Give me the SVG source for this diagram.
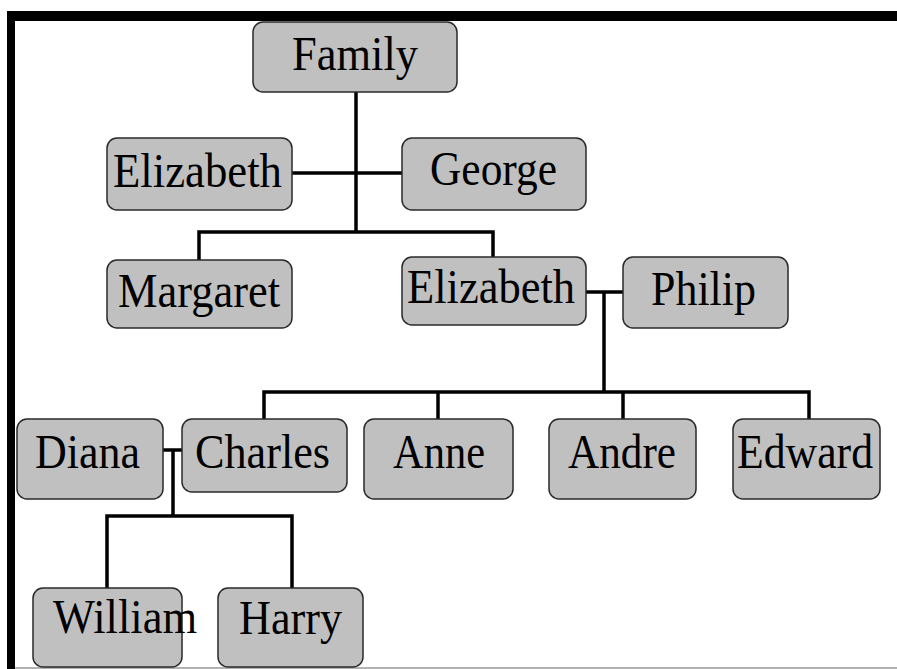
<svg xmlns="http://www.w3.org/2000/svg" width="897" height="669" viewBox="0 0 897 669">
<style>
.box{fill:#c0c0c0;stroke:#2a2a2a;stroke-width:1.5}
.t{font-family:"Liberation Serif","Times New Roman",serif;font-size:49px;fill:#000}
.c{stroke:#000;stroke-width:3.5;fill:none}
</style>
<rect x="0" y="0" width="897" height="669" fill="#fff"/>
<g id="frame">
<rect x="7" y="11" width="890" height="10" fill="#000"/>
<rect x="7" y="11" width="8" height="658" fill="#000"/>
<line x1="15" y1="668" x2="897" y2="668" stroke="#999" stroke-width="1.5"/>
</g>
<g id="connectors" class="c">
<path d="M356 92V232"/>
<path d="M292 173H402"/>
<path d="M199 260V232H493V257"/>
<path d="M586 292H623"/>
<path d="M604 292V392"/>
<path d="M264 420V392H809V420"/>
<path d="M438 392V420"/>
<path d="M623 392V420"/>
<path d="M163 450H182"/>
<path d="M173 450V516"/>
<path d="M107 588V516H292V588"/>
</g>
<g id="family"><rect class="box" x="253" y="22" width="204" height="70" rx="10"/><text class="t" x="292" y="70" textLength="126" lengthAdjust="spacingAndGlyphs">Family</text></g>
<g id="elizabeth1"><rect class="box" x="107" y="138" width="185" height="72" rx="10"/><text class="t" x="113" y="187" textLength="169" lengthAdjust="spacingAndGlyphs">Elizabeth</text></g>
<g id="george"><rect class="box" x="402" y="138" width="184" height="72" rx="10"/><text class="t" x="430" y="185" textLength="127" lengthAdjust="spacingAndGlyphs">George</text></g>
<g id="margaret"><rect class="box" x="107" y="260" width="185" height="68" rx="10"/><text class="t" x="118" y="307" textLength="162" lengthAdjust="spacingAndGlyphs">Margaret</text></g>
<g id="elizabeth2"><rect class="box" x="402" y="257" width="184" height="68" rx="10"/><text class="t" x="407" y="303" textLength="168" lengthAdjust="spacingAndGlyphs">Elizabeth</text></g>
<g id="philip"><rect class="box" x="623" y="257" width="165" height="71" rx="10"/><text class="t" x="651" y="305" textLength="105" lengthAdjust="spacingAndGlyphs">Philip</text></g>
<g id="diana"><rect class="box" x="17" y="419" width="146" height="80" rx="10"/><text class="t" x="35" y="468" textLength="105" lengthAdjust="spacingAndGlyphs">Diana</text></g>
<g id="charles"><rect class="box" x="182" y="419" width="165" height="73" rx="10"/><text class="t" x="195" y="468" textLength="135" lengthAdjust="spacingAndGlyphs">Charles</text></g>
<g id="anne"><rect class="box" x="364" y="419" width="149" height="80" rx="10"/><text class="t" x="393" y="468" textLength="92" lengthAdjust="spacingAndGlyphs">Anne</text></g>
<g id="andre"><rect class="box" x="549" y="419" width="147" height="80" rx="10"/><text class="t" x="568" y="468" textLength="108" lengthAdjust="spacingAndGlyphs">Andre</text></g>
<g id="edward"><rect class="box" x="733" y="419" width="147" height="80" rx="10"/><text class="t" x="737" y="468" textLength="136" lengthAdjust="spacingAndGlyphs">Edward</text></g>
<g id="william"><rect class="box" x="33" y="588" width="149" height="79" rx="10"/><text class="t" x="53" y="633" textLength="144" lengthAdjust="spacingAndGlyphs">William</text></g>
<g id="harry"><rect class="box" x="218" y="588" width="145" height="79" rx="10"/><text class="t" x="239" y="634" textLength="103" lengthAdjust="spacingAndGlyphs">Harry</text></g>
</svg>
